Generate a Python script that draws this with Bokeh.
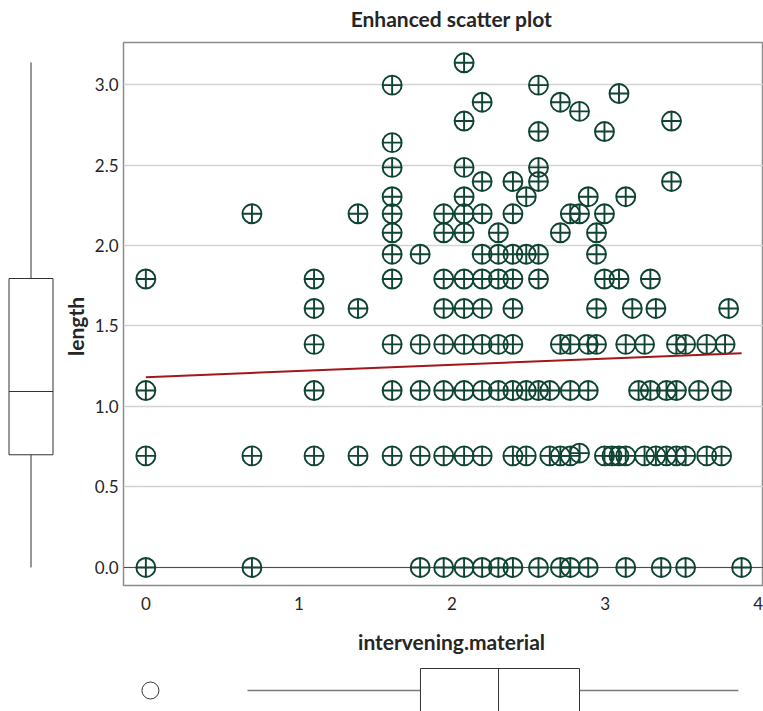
from bokeh.plotting import figure
from bokeh.models import Range1d, Span, ColumnDataSource, FixedTicker, PrintfTickFormatter, Spacer
from bokeh.layouts import column, row
from bokeh.embed import file_html
from bokeh.resources import INLINE
from bokeh.core.properties import value

# ---------------- data ----------------
intervening_material = [
    2.079,
    1.609, 2.565,
    3.091,
    2.197, 2.708,
    2.833,
    2.079, 3.434,
    2.565, 2.996,
    1.609,
    1.609, 2.079, 2.565,
    2.197, 2.398, 2.565, 3.434,
    1.609, 2.079, 2.485, 2.890, 3.135,
    0.693, 1.386, 1.609, 1.946, 2.079, 2.197, 2.398, 2.773, 2.833, 2.996,
    1.609, 1.946, 2.079, 2.303, 2.708, 2.944,
    1.609, 1.792, 2.197, 2.303, 2.398, 2.485, 2.565, 2.944,
    0.0, 1.099, 1.609, 1.946, 2.079, 2.197, 2.303, 2.398, 2.565, 2.996, 3.091, 3.296,
    1.099, 1.386, 1.946, 2.079, 2.197, 2.398, 2.944, 3.178, 3.332, 3.807,
    1.099, 1.609, 1.792, 1.946, 2.079, 2.197, 2.303, 2.398, 2.708, 2.773, 2.890, 2.944,
    3.135, 3.258, 3.466, 3.526, 3.664, 3.784,
    0.0, 1.099, 1.609, 1.792, 1.946, 2.079, 2.197, 2.303, 2.398, 2.485, 2.565, 2.639,
    2.773, 2.890, 3.219, 3.296, 3.401, 3.466, 3.611, 3.761,
    0.0, 0.693, 1.099, 1.386, 1.609, 1.792, 1.946, 2.079, 2.197, 2.398, 2.485, 2.639,
    2.708, 2.773, 2.833, 2.996, 3.045, 3.091, 3.135, 3.258, 3.332, 3.401, 3.466, 3.526,
    3.664, 3.761,
    0.0, 0.693, 1.792, 1.946, 2.079, 2.197, 2.303, 2.398, 2.565, 2.708, 2.773, 2.890,
    3.135, 3.367, 3.526, 3.892,
]

length = [
    3.135,
    2.996, 2.996,
    2.944,
    2.890, 2.890,
    2.833,
    2.773, 2.773,
    2.708, 2.708,
    2.639,
    2.485, 2.485, 2.485,
    2.398, 2.398, 2.398, 2.398,
    2.303, 2.303, 2.303, 2.303, 2.303,
    2.197, 2.197, 2.197, 2.197, 2.197, 2.197, 2.197, 2.197, 2.197, 2.197,
    2.079, 2.079, 2.079, 2.079, 2.079, 2.079,
    1.946, 1.946, 1.946, 1.946, 1.946, 1.946, 1.946, 1.946,
    1.792, 1.792, 1.792, 1.792, 1.792, 1.792, 1.792, 1.792, 1.792, 1.792, 1.792, 1.792,
    1.609, 1.609, 1.609, 1.609, 1.609, 1.609, 1.609, 1.609, 1.609, 1.609,
    1.386, 1.386, 1.386, 1.386, 1.386, 1.386, 1.386, 1.386, 1.386, 1.386, 1.386, 1.386,
    1.386, 1.386, 1.386, 1.386, 1.386, 1.386,
    1.099, 1.099, 1.099, 1.099, 1.099, 1.099, 1.099, 1.099, 1.099, 1.099, 1.099, 1.099,
    1.099, 1.099, 1.099, 1.099, 1.099, 1.099, 1.099, 1.099,
    0.693, 0.693, 0.693, 0.693, 0.693, 0.693, 0.693, 0.693, 0.693, 0.693, 0.693, 0.693,
    0.693, 0.693, 0.710, 0.693, 0.693, 0.693, 0.693, 0.693, 0.693, 0.693, 0.693, 0.693,
    0.693, 0.693,
    0.0, 0.0, 0.0, 0.0, 0.0, 0.0, 0.0, 0.0, 0.0, 0.0, 0.0, 0.0,
    0.0, 0.0, 0.0, 0.0,
]

# linear fit line (end points)
fit_x = [0.0, 3.892]
fit_y = [1.182, 1.331]

# marginal box plots: [lower whisker, Q1, median, Q3, upper whisker]
length_box = [0.0, 0.70, 1.093, 1.795, 3.137]
material_box = [0.664, 1.794, 2.304, 2.833, 3.871]
material_outliers = [0.03]

x_ticks = [0, 1, 2, 3, 4]
y_ticks = [0.0, 0.5, 1.0, 1.5, 2.0, 2.5, 3.0]

title_text = "Enhanced scatter plot"
x_label = "intervening.material"
y_label = "length"

# ---------------- styling ----------------
FONT = "Lato"
TXT = "#262626"
GREEN = "#0e4431"
RED = "#a3171b"
BOXC = "#333333"


def bare(fig):
    fig.grid.visible = False
    fig.outline_line_color = None
    fig.background_fill_color = "white"
    fig.border_fill_color = "white"
    return fig


x_rng = Range1d(-0.146, 4.035)
y_rng = Range1d(-0.112, 3.261)

# ---------------- title strip ----------------
top = bare(figure(width=763, height=40, x_range=Range1d(0, 763), y_range=Range1d(40, 0),
                  output_backend="svg", toolbar_location=None,
                  x_axis_location=None, y_axis_location=None,
                  min_border_left=0, min_border_right=0, min_border_top=0, min_border_bottom=0))
top.text(x=[451], y=[18], text=[title_text], text_align="center", text_baseline="middle",
         text_font=value(FONT), text_font_style="bold", text_font_size="21px", text_color=TXT)

# ---------------- left strip: box plot of length + axis title ----------------
left = bare(figure(width=90, height=582, x_range=Range1d(0, 90), y_range=y_rng,
                   output_backend="svg", toolbar_location=None,
                   x_axis_location=None, y_axis_location=None,
                   min_border_left=0, min_border_right=0,
                   min_border_top=2, min_border_bottom=37))
lw, lq1, lmed, lq3, lhi = length_box
left.segment(x0=[30.5, 30.5], y0=[lw, lq3], x1=[30.5, 30.5], y1=[lq1, lhi],
             line_color=BOXC, line_width=1)
left.quad(left=[8.5], right=[52.5], bottom=[lq1], top=[lq3], fill_color=None,
          line_color=BOXC, line_width=1)
left.segment(x0=[8.5], y0=[lmed], x1=[52.5], y1=[lmed], line_color=BOXC, line_width=1)
left.text(x=[75], y=[1.497], text=[y_label], angle=1.5708, text_align="center",
          text_baseline="middle", text_font=value(FONT), text_font_style="bold",
          text_font_size="21px", text_color=TXT)

# ---------------- main scatter ----------------
main = figure(width=673, height=582, x_range=x_rng, y_range=y_rng,
              output_backend="svg", toolbar_location=None,
              min_border_left=33, min_border_right=0,
              min_border_top=2, min_border_bottom=37)
main.background_fill_color = "white"
main.border_fill_color = "white"
main.outline_line_color = "#8c8c8c"
main.outline_line_width = 1.5

main.xgrid.visible = False
main.ygrid.grid_line_color = "#d3d3d3"
main.ygrid.grid_line_width = 1.5

zero = Span(location=0, dimension="width", line_color="#4a4a4a", line_width=1, level="underlay")
main.add_layout(zero)

src = ColumnDataSource(dict(x=intervening_material, y=length))
main.scatter("x", "y", source=src, marker="circle_cross", size=19,
             fill_color=None, line_color=GREEN, line_width=1.9)
main.line(fit_x, fit_y, line_color=RED, line_width=2)

for ax in (main.xaxis[0], main.yaxis[0]):
    ax.major_tick_line_color = None
    ax.minor_tick_line_color = None
    ax.major_tick_out = 0
    ax.major_tick_in = 0
    ax.minor_tick_out = 0
    ax.minor_tick_in = 0
    ax.axis_line_color = None
    ax.major_label_text_font = FONT
    ax.major_label_text_font_size = "17px"
    ax.major_label_text_color = TXT

main.xaxis.ticker = FixedTicker(ticks=x_ticks)
main.yaxis.ticker = FixedTicker(ticks=y_ticks)
main.xaxis.formatter = PrintfTickFormatter(format="%d")
main.yaxis.formatter = PrintfTickFormatter(format="%.1f")
main.xaxis.major_label_standoff = 11
main.yaxis.major_label_standoff = 5

# ---------------- bottom strip: axis title + box plot of intervening.material ----------------
bottom = bare(figure(width=640, height=89, x_range=x_rng, y_range=Range1d(0, 89),
                     output_backend="svg", toolbar_location=None,
                     x_axis_location=None, y_axis_location=None,
                     min_border_left=0, min_border_right=0,
                     min_border_top=0, min_border_bottom=0))
bottom.text(x=[1.997], y=[70], text=[x_label], text_align="center", text_baseline="middle",
            text_font=value(FONT), text_font_style="bold", text_font_size="21px", text_color=TXT)
bw, bq1, bmed, bq3, bhi = material_box
bottom.segment(x0=[bw, bq3], y0=[21, 21], x1=[bq1, bhi], y1=[21, 21],
               line_color="#7a7a7a", line_width=1.6)
bottom.quad(left=[bq1], right=[bq3], bottom=[-1], top=[43], fill_color=None,
            line_color=BOXC, line_width=1)
bottom.segment(x0=[bmed], y0=[-1], x1=[bmed], y1=[43], line_color=BOXC, line_width=1)
bottom.scatter(material_outliers, [21] * len(material_outliers), marker="circle", size=17,
               fill_color=None, line_color=BOXC, line_width=1)

layout = column(
    top,
    row(left, main),
    row(Spacer(width=123, height=89), bottom),
)

open("out.html", "w").write(file_html(layout, INLINE))
